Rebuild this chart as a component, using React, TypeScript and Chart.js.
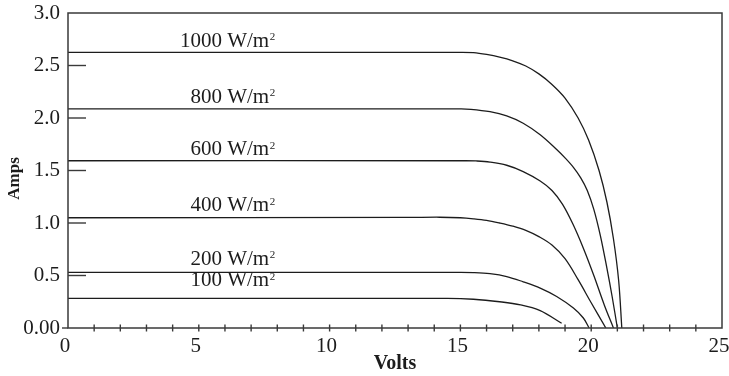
import { useEffect, useRef } from 'react';
import { Chart, registerables } from 'chart.js';

Chart.register(...registerables);

// ---- Data (Volts, Amps) ----
const volts1000 = [0, 15.0, 15.5, 16.0, 16.5, 17.0, 17.5, 18.0, 18.5, 19.0, 19.5, 19.9, 20.3, 20.6, 20.85, 21.05, 21.17];
const amps1000 = [2.625, 2.625, 2.622, 2.605, 2.58, 2.545, 2.495, 2.42, 2.32, 2.19, 2.0, 1.79, 1.5, 1.2, 0.85, 0.45, 0];

const volts800 = [0, 15.0, 15.4, 16.13, 16.77, 17.4, 18.05, 18.68, 19.0, 19.32, 19.6, 19.85, 20.1, 20.35, 20.6, 20.8, 21.0];
const amps800 = [2.086, 2.086, 2.083, 2.06, 2.02, 1.95, 1.84, 1.7, 1.62, 1.53, 1.43, 1.31, 1.13, 0.88, 0.57, 0.3, 0];

const volts600 = [0, 15.2, 15.6, 16.13, 16.77, 17.4, 18.05, 18.5, 18.9, 19.3, 19.7, 20.1, 20.5, 20.85];
const amps600 = [1.593, 1.593, 1.591, 1.58, 1.55, 1.49, 1.4, 1.31, 1.18, 0.99, 0.76, 0.5, 0.22, 0];

const volts400 = [0, 13.0, 14.2, 15.0, 15.5, 16.0, 16.5, 17.0, 17.5, 18.0, 18.5, 19.0, 19.5, 20.0, 20.56];
const amps400 = [1.05, 1.053, 1.055, 1.05, 1.04, 1.025, 1.0, 0.97, 0.93, 0.87, 0.79, 0.66, 0.46, 0.24, 0];

const volts200 = [0, 15.0, 15.5, 16.13, 16.77, 17.4, 18.05, 18.68, 19.32, 19.7, 19.92];
const amps200 = [0.53, 0.53, 0.528, 0.517, 0.49, 0.44, 0.38, 0.3, 0.19, 0.095, 0];

const volts100 = [0, 14.5, 15.5, 16.5, 17.3, 18.05, 18.87];
const amps100 = [0.282, 0.282, 0.274, 0.25, 0.22, 0.165, 0.045];

const seriesVolts = [volts1000, volts800, volts600, volts400, volts200, volts100];
const seriesAmps = [amps1000, amps800, amps600, amps400, amps200, amps100];

// Curve labels (annotation text, baseline value in Amps, right edge in Volts)
const curveLabels = ['1000 W/m', '800 W/m', '600 W/m', '400 W/m', '200 W/m', '100 W/m'];
const curveLabelAmps = [2.68, 2.143, 1.646, 1.111, 0.603, 0.397];
const curveLabelVolts = 7.9;

// Axis ticks
const xTickValues = [0, 5, 10, 15, 20, 25];
const xTickLabels = ['0', '5', '10', '15', '20', '25'];
const yTickValues = [0, 0.5, 1.0, 1.5, 2.0, 2.5, 3.0];
const yTickLabels = ['0.00', '0.5', '1.0', '1.5', '2.0', '2.5', '3.0'];
const yInnerTickValues = [0.5, 1.0, 1.5, 2.0, 2.5];
const xMinorStep = 1;

const FONT = '"Liberation Serif", "Times New Roman", serif';
const INK = '#1c1c1c';
const AXIS = '#3a3a3a';

const decorPlugin = {
  id: 'decor',
  afterDraw(chart: any) {
    const { ctx, chartArea: a, scales } = chart;
    const x = scales.x;
    const y = scales.y;
    ctx.save();
    ctx.strokeStyle = AXIS;
    ctx.lineWidth = 1.5;
    ctx.strokeRect(a.left, a.top, a.right - a.left, a.bottom - a.top);
    const line = (x1: number, y1: number, x2: number, y2: number) => {
      ctx.beginPath();
      ctx.moveTo(x1, y1);
      ctx.lineTo(x2, y2);
      ctx.stroke();
    };
    ctx.lineWidth = 1.4;
    yInnerTickValues.forEach((v) => {
      const py = y.getPixelForValue(v);
      line(a.left, py, a.left + 18, py);
    });
    const p0 = y.getPixelForValue(0);
    line(a.left - 6, p0, a.left, p0);
    for (let v = x.min + xMinorStep; v < x.max; v += xMinorStep) {
      const px = x.getPixelForValue(v);
      line(px, a.bottom - 3.5, px, a.bottom + 3.5);
    }
    // curve labels
    ctx.fillStyle = INK;
    ctx.textBaseline = 'alphabetic';
    ctx.textAlign = 'left';
    const rightX = x.getPixelForValue(curveLabelVolts);
    curveLabels.forEach((t, i) => {
      ctx.font = `21px ${FONT}`;
      const w1 = ctx.measureText(t).width;
      ctx.font = `11px ${FONT}`;
      const w2 = ctx.measureText('2').width;
      const by = y.getPixelForValue(curveLabelAmps[i]);
      const sx = rightX - w1 - w2;
      ctx.font = `21px ${FONT}`;
      ctx.fillText(t, sx, by);
      ctx.font = `11px ${FONT}`;
      ctx.fillText('2', sx + w1 + 0.5, by - 6.5);
    });
    // y title
    ctx.font = `bold 17px ${FONT}`;
    ctx.textAlign = 'center';
    ctx.textBaseline = 'middle';
    ctx.translate(15, (a.top + a.bottom) / 2 + 8);
    ctx.rotate(-Math.PI / 2);
    ctx.fillText('Amps', 0, 0);
    ctx.restore();
  },
};

export default function App() {
  const ref = useRef<HTMLCanvasElement | null>(null);
  useEffect(() => {
    document.body.style.margin = '0';
    const canvas = ref.current;
    if (!canvas) return;
    const datasets = seriesVolts.map((vs, i) => ({
      label: curveLabels[i] + '2',
      data: vs.map((v, j) => ({ x: v, y: seriesAmps[i][j] })),
      borderColor: INK,
      borderWidth: 1.3,
      pointRadius: 0,
      fill: false,
      tension: 0.35,
    }));
    const chart = new Chart(canvas, {
      type: 'line',
      data: { datasets },
      plugins: [decorPlugin],
      options: {
        responsive: false,
        animation: false,
        devicePixelRatio: 1,
        layout: { padding: { top: 13, right: 7, left: 0, bottom: 0 } },
        plugins: { legend: { display: false }, tooltip: { enabled: false } },
        scales: {
          x: {
            type: 'linear',
            min: 0,
            max: 25,
            grid: { display: false, drawTicks: false },
            border: { display: false },
            afterBuildTicks: (s: any) => {
              s.ticks = xTickValues.map((v) => ({ value: v }));
            },
            afterFit: (s: any) => {
              s.height = 48;
              s.paddingLeft = 0;
              s.paddingRight = 0;
            },
            ticks: {
              autoSkip: false,
              maxRotation: 0,
              padding: 6,
              labelOffset: -3,
              color: INK,
              font: { family: FONT, size: 21 },
              callback: (_v: any, i: number) => xTickLabels[i],
            },
            title: {
              display: true,
              text: 'Volts',
              color: INK,
              font: { family: FONT, size: 20, weight: 'bold' },
              padding: { top: 0, bottom: 0 },
            },
          },
          y: {
            type: 'linear',
            min: 0,
            max: 3,
            grid: { display: false, drawTicks: false },
            border: { display: false },
            afterBuildTicks: (s: any) => {
              s.ticks = yTickValues.map((v) => ({ value: v }));
            },
            afterFit: (s: any) => {
              s.width = 68;
              s.paddingTop = 0;
              s.paddingBottom = 0;
            },
            ticks: {
              autoSkip: false,
              padding: 8,
              color: INK,
              font: { family: FONT, size: 21 },
              callback: (_v: any, i: number) => yTickLabels[i],
            },
          },
        },
      },
    });
    return () => chart.destroy();
  }, []);
  return (
    <div style={{ width: 729, height: 376 }}>
      <canvas ref={ref} width={729} height={376} style={{ display: 'block' }} />
    </div>
  );
}
